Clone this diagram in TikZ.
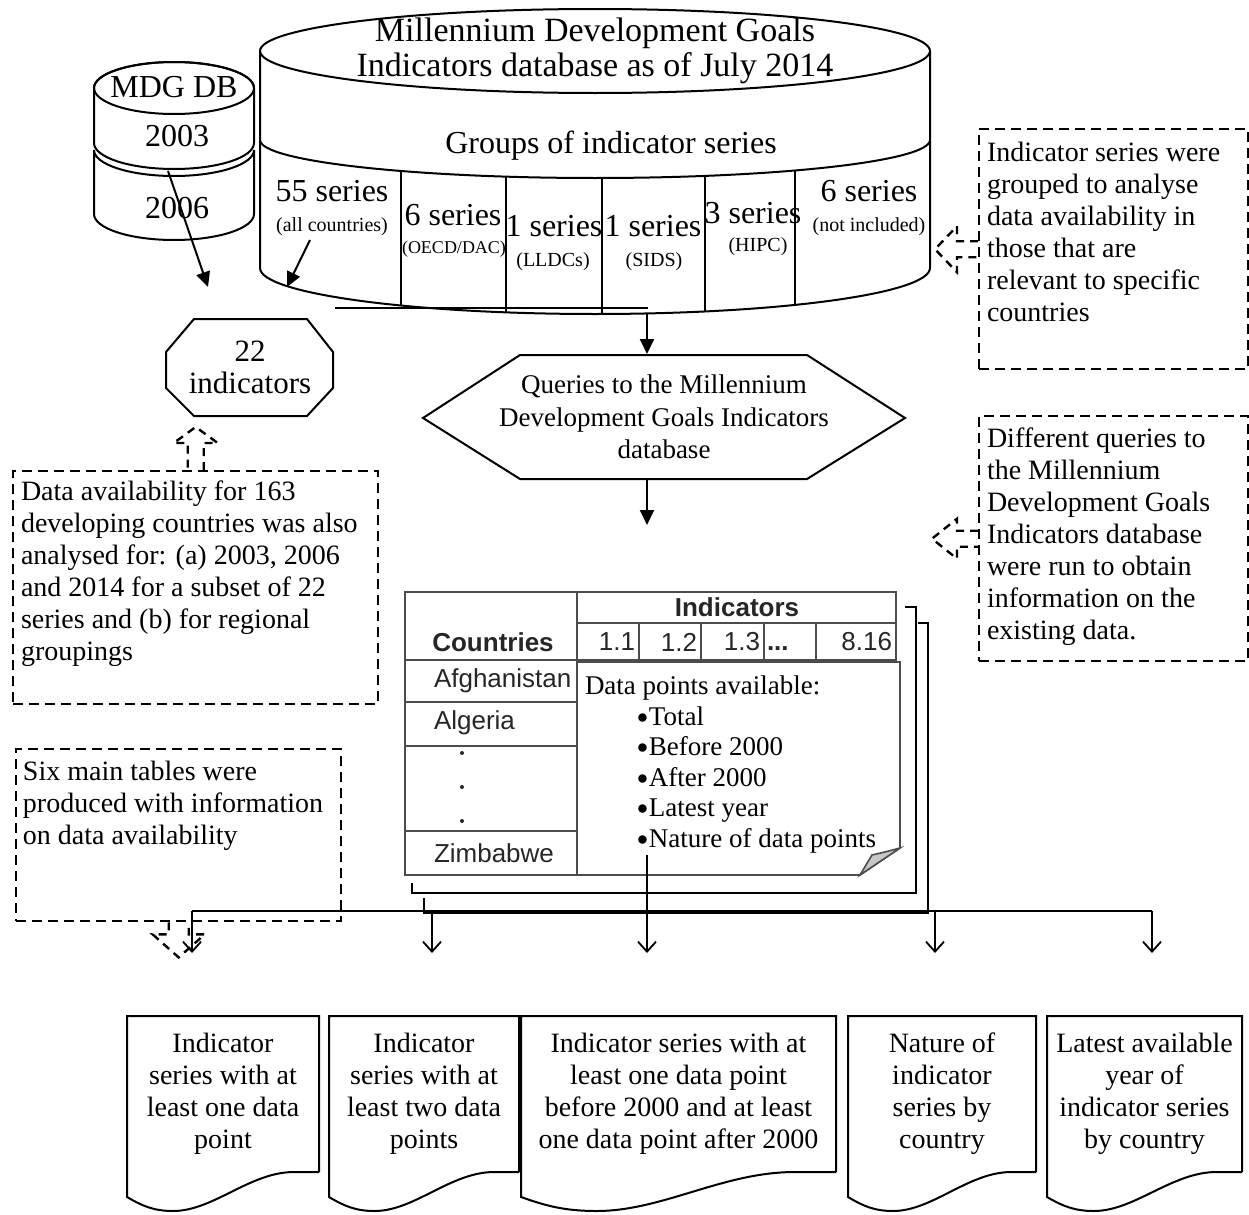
\documentclass[tikz,border=0pt]{standalone}
\usepackage{fontspec}
\setmainfont{Liberation Serif}
\setsansfont{Liberation Sans}
\usetikzlibrary{arrows.meta,calc}

\tikzset{
  lbl/.style={inner sep=0pt, font=\fontsize{16}{17.5}\selectfont, align=center},
  sublbl/.style={inner sep=0pt, font=\fontsize{10}{12}\selectfont},
  txt/.style={inner sep=0pt, font=\fontsize{14}{16}\selectfont, align=center},
  remark/.style={draw, line width=1.2pt, dash pattern=on 5pt off 3pt, inner sep=0pt, anchor=north west},
  remarktxt/.style={inner sep=0pt, font=\fontsize{14}{16}\selectfont, align=left, anchor=north west},
  pointer/.style={line width=1.2pt, dash pattern=on 4pt off 3pt},
  tbl/.style={draw=black!70, line width=0.8pt},
  tbltxt/.style={inner sep=0pt, text=black!85, font=\sffamily\fontsize{13}{15}\selectfont},
  tblhead/.style={tbltxt, font=\sffamily\bfseries\fontsize{13}{15}\selectfont},
  feed/.style={-{Triangle[length=7.5pt,width=7pt]}},
  split/.style={-{Straight Barb[length=5pt,width=9pt]}, line width=0.9pt},
}

% document symbol drawn round a node
\newcommand{\docshape}[1]{%
  \draw (#1.south east) -- (#1.north east) -- (#1.north west) -- ($(#1.south west)+(0,25)$)
    .. controls ($(#1.south west)!0.08!(#1.south east)+(0,34)$) and ($(#1.south west)!0.14!(#1.south east)+(0,39)$) .. ($(#1.south west)!0.24!(#1.south east)+(0,39)$)
    .. controls ($(#1.south west)!0.45!(#1.south east)+(0,39)$) and ($(#1.south west)!0.64!(#1.south east)$) .. ($(#1.south west)!0.87!(#1.south east)$)
    -- (#1.south east);}
\newcommand{\pointitem}{\hspace*{26pt}\raisebox{1.1pt}{\fontsize{11}{11}\selectfont$\bullet$}\kern0.5pt}

\begin{document}
\begin{tikzpicture}[x=0.5pt, y=-0.5pt, line width=1pt]
  % 座標は画素 (y は下向き)
  \useasboundingbox (0,0) rectangle (1249,1215);

  % MDG DB 2003 / 2006
  \filldraw[fill=white] (94,150) -- (94,214) arc[start angle=180, end angle=0, x radius=80, y radius=26]
    -- (254,150) arc[start angle=0, end angle=180, x radius=80, y radius=26] -- cycle;
  \filldraw[fill=white] (94,88) -- (94,143) arc[start angle=180, end angle=0, x radius=80, y radius=26]
    -- (254,88) arc[start angle=0, end angle=-180, x radius=80, y radius=26] -- cycle;
  \draw (174,88) ellipse [x radius=80, y radius=26];
  \node[lbl] (mdg) at (174,87) {MDG DB};
  \node[lbl] (y03) at (177,136) {2003};
  \node[lbl] (y06) at (177,208) {2006};

  % MDG database July 2014
  \draw (260,51) -- (260,268) arc[start angle=180, end angle=0, x radius=335, y radius=46] -- (930,51);
  \draw (595,51) ellipse [x radius=335, y radius=42];
  \draw (260,140) arc[start angle=180, end angle=0, x radius=335, y radius=38];
  \foreach \xd in {401,506,602,705,795} {
    \pgfmathsetmacro\yt{140+38*sqrt(1-((\xd-595)/335)^2)}
    \pgfmathsetmacro\yb{268+46*sqrt(1-((\xd-595)/335)^2)}
    \draw (\xd,\yt) -- (\xd,\yb);
  }
  \draw (335,308) -- (648,308);
  \node[lbl, font=\fontsize{17}{17.5}\selectfont] (db) at (595,51) {Millennium Development Goals\\Indicators database as of July 2014};
  \node[lbl] (grp) at (611,146) {Groups of indicator series};
  \node[lbl] (g1) at (332,191) {55 series};
  \node[sublbl] (g1n) at (332,227) {(all countries)};
  \node[lbl] (g2) at (453,215) {6 series};
  \node[sublbl, font=\fontsize{9}{11}\selectfont] (g2n) at (454,249) {(OECD/DAC)};
  \node[lbl] (g3) at (554,226) {1 series};
  \node[sublbl] (g3n) at (553,262) {(LLDCs)};
  \node[lbl] (g4) at (653,226) {1 series};
  \node[sublbl] (g4n) at (654,262) {(SIDS)};
  \node[lbl] (g5) at (753,213) {3 series};
  \node[sublbl] (g5n) at (758,247) {(HIPC)};
  \node[lbl] (g6) at (869,191) {6 series};
  \node[sublbl] (g6n) at (869,227) {(not included)};

  % 22 indicators
  \draw (194,319) -- (307,319) -- (333,352) -- (333,388) -- (307,416) -- (194,416) -- (166,388) -- (166,352) -- cycle;
  \node[lbl, font=\fontsize{15.5}{16}\selectfont, minimum height=48.5pt] (sub) at (250,367) {22\\indicators};
  \coordinate (mdgout) at (168,171);
  \coordinate (subin1) at (208,287);
  \coordinate (g1out) at (310,240);
  \coordinate (subin2) at (287,287);
  \draw[feed] (mdgout) -- (subin1);
  \draw[feed] (g1out) -- (subin2);

  % queries
  \draw (520,355) -- (807,355) -- (905,418) -- (807,479) -- (520,479) -- (423,418) -- cycle;
  \node[txt, font=\fontsize{13.5}{16.25}\selectfont, minimum height=62pt] (qry) at (664,417)
    {Queries to the Millennium\\Development Goals Indicators\\database};
  \coordinate (dbout) at (647,314);
  \coordinate (tblin) at (647,525);
  \draw[feed] (dbout) -- (dbout |- qry.north);
  \draw[feed] (qry.south -| dbout) -- (tblin);

  % table with stacked pages
  \draw (412,883) -- (412,893) -- (916,893) -- (916,607) -- (905,607);
  \draw (424,898) -- (424,912.5) -- (928,912.5) -- (928,623) -- (918,623);
  \filldraw[tbl, fill=white] (405,592) rectangle (577,875);
  \foreach \yr in {660,702,746,831} \draw[tbl] (405,\yr) -- (577,\yr);
  \filldraw[tbl, fill=white] (577,592) rectangle (896,623);
  \filldraw[tbl, fill=white] (577,623) rectangle (896,660);
  \foreach \xc in {639,701,764,816} \draw[tbl] (\xc,623) -- (\xc,660);
  \node[tblhead] (ind) at (737,607) {Indicators};
  \node[tblhead] (ctry) at (493,642) {Countries};
  \node[tbltxt, anchor=east] (c11) at (636,642) {1.1};
  \node[tbltxt, anchor=east] (c12) at (698,642) {1.2};
  \node[tbltxt, anchor=east] (c13) at (761,642) {1.3};
  \node[tbltxt, anchor=base west] (cdots) at (766,650) {\textbf{...}};
  \node[tbltxt, anchor=east] (c816) at (893,642) {8.16};
  \node[tbltxt, anchor=west] (afg) at (433,681) {Afghanistan};
  \node[tbltxt, anchor=west] (alg) at (433,723) {Algeria};
  \node[tbltxt, anchor=west] (zwe) at (433,853) {Zimbabwe};
  \foreach \yd in {753,787,821} \fill[black!85] (462,\yd) circle (2);
  \filldraw[tbl, fill=white] (577,662) -- (900,662) -- (900,848) -- (860,875) -- (577,875) -- cycle;
  \filldraw[tbl, fill=black!22] (860,875) -- (900,848) .. controls (885,852) .. (872,855) -- cycle;
  \node[txt, anchor=north west, align=left, font=\fontsize{13.5}{15.25}\selectfont] (dpa) at (584,675)
    {Data points available:\\\pointitem Total\\\pointitem Before 2000\\\pointitem After 2000\\\pointitem Latest year\\\pointitem Nature of data points};

  % distribution to the six tables
  \coordinate (noteout) at (647,855);
  \coordinate (dl) at (192,911);
  \coordinate (dr) at (1152,911);
  \coordinate (t1) at (192,953);
  \coordinate (t2) at (432,953);
  \coordinate (t3) at (647,953);
  \coordinate (t4) at (935,953);
  \coordinate (t5) at (1152,953);
  \draw[line width=0.9pt] (dl) -- (dr);
  \draw[split] (dl) -- (t1);
  \draw[split] (dl -| t2) -- (t2);
  \draw[split] (noteout) -- (t3);
  \draw[split] (dl -| t4) -- (t4);
  \draw[split] (dr) -- (t5);

  % output tables
  \node[txt, minimum width=95pt, minimum height=77pt] (doc1) at (223,1094) {Indicator\\series with at\\least one data\\point};
  \node[txt, minimum width=94pt, minimum height=77pt] (doc2) at (424,1094) {Indicator\\series with at\\least two data\\points};
  \node[txt, minimum width=156.5pt, minimum height=77pt] (doc3) at (678.5,1094) {Indicator series with at\\least one data point\\before 2000 and at least\\one data point after 2000};
  \node[txt, minimum width=93pt, minimum height=77pt] (doc4) at (942,1094) {Nature of\\indicator\\series by\\country};
  \node[txt, minimum width=96.5pt, minimum height=77pt] (doc5) at (1144.5,1094) {Latest available\\year of\\indicator series\\by country};
  \foreach \d in {doc1,doc2,doc3,doc4,doc5} \docshape{\d};

  % notes
  \node[remark, minimum width=134.5pt, minimum height=120pt] (infoA) at (978,128) {};
  \node[remarktxt] (infoAtxt) at ([xshift=4pt,yshift=-6.5pt]infoA.north west)
    {Indicator series were\\grouped to analyse\\data availability in\\those that are\\relevant to specific\\countries};
  \draw[pointer, shift={(infoA.west)}] (0,-8) -- (-21,-8) -- (-21,-23) -- (-43,0) -- (-21,23) -- (-21,8) -- (0,8);

  \node[remark, minimum width=134.5pt, minimum height=122.5pt] (infoB) at (978,415) {};
  \node[remarktxt] (infoBtxt) at ([xshift=4pt,yshift=-6pt]infoB.north west)
    {Different queries to\\the Millennium\\Development Goals\\Indicators database\\were run to obtain\\information on the\\existing data.};
  \draw[pointer, shift={(infoB.west)}] (0,-8) -- (-21,-8) -- (-21,-20) -- (-46,0) -- (-21,20) -- (-21,8) -- (0,8);

  \node[remark, minimum width=182.5pt, minimum height=116.5pt] (infoC) at (12,470) {};
  \node[remarktxt] (infoCtxt) at ([xshift=4pt,yshift=-4.7pt]infoC.north west)
    {Data availability for 163\\developing countries was also\\analysed for: (a) 2003, 2006\\and 2014 for a subset of 22\\series and (b) for regional\\groupings};
  \draw[pointer, shift={(infoC.north)}, rotate=-90] (0,-8) -- (-27,-8) -- (-27,-22) -- (-43,0) -- (-27,22) -- (-27,8) -- (0,8);

  \node[remark, minimum width=162.5pt, minimum height=86pt] (infoD) at (15,748) {};
  \node[remarktxt] (infoDtxt) at ([xshift=3.5pt,yshift=-6pt]infoD.north west)
    {Six main tables were\\produced with information\\on data availability};
  \draw[pointer, shift={(infoD.south)}, rotate=90] (0,-10) -- (-12,-10) -- (-12,-26) -- (-35,0) -- (-12,26) -- (-12,10) -- (0,10);
\end{tikzpicture}
\end{document}
